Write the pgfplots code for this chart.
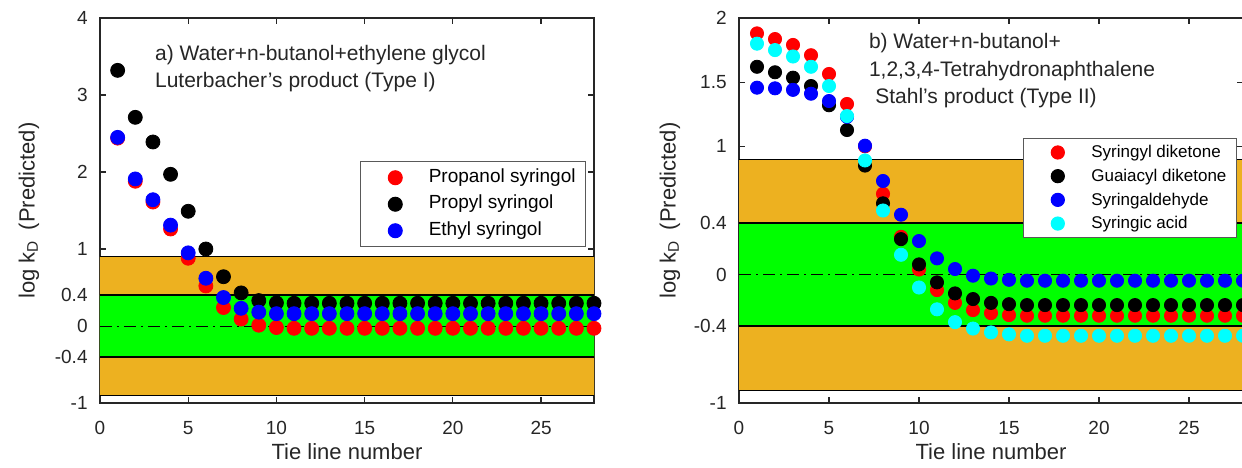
\documentclass[border=0pt]{standalone}
\usepackage{fontspec}
\setmainfont{Liberation Sans}
\usepackage{pgfplots}
\pgfplotsset{compat=1.18}
\definecolor{morange}{RGB}{237,177,32}
\definecolor{axgray}{RGB}{38,38,38}
\definecolor{mcyan}{RGB}{0,255,255}
\definecolor{mred}{RGB}{255,0,0}
\definecolor{mblue}{RGB}{0,0,255}
\definecolor{mgreen}{RGB}{0,255,0}
\pgfplotsset{
  common/.style={
    scale only axis,
    height=192.5pt,
    xmin=0, xmax=28,
    xtick={0,5,10,15,20,25},
    /pgf/number format/assume math mode=true,
    tick align=inside,
    major tick length=3pt,
    tick style={color=axgray, line width=0.6pt},
    axis line style={axgray, line width=0.9pt},
    tick label style={font=\fontsize{9.5}{11}\selectfont, text=black!85},
    xticklabel style={anchor=north, inner sep=0pt, yshift=-9pt},
    yticklabel style={anchor=east, inner sep=0pt, xshift=-6pt},
    label style={font=\fontsize{11}{13}\selectfont, text=black!85},
    xlabel={Tie line number},
    xlabel style={at={(axis description cs:0.5,-0.127)}, anchor=center},
    ylabel={log k$_{\mathrm{D}}$ \,(Predicted)},
    legend image code/.code={\path (-14pt,0pt) (14.5pt,0pt); \draw[##1] plot coordinates {(0pt,0pt)};},
    legend cell align=left,
    legend style={draw=gray!70!black, line width=0.5pt, fill=white,
      inner xsep=3pt, inner ysep=1.5pt, column sep=0pt,
      nodes={inner sep=2pt, text height=7pt, text depth=2.25pt}},
  },
  bands/.style={forget plot}
}
\begin{document}
\begin{tikzpicture}
% ---------------- left panel ----------------
\begin{axis}[common,
  at={(0pt,0pt)}, anchor=south west,
  width=247pt,
  ymin=-1, ymax=4,
  ytick={-1,-0.4,0,0.4,1,2,3,4},
  yticklabels={-1,-0.4,0,0.4,1,2,3,4},
  ylabel style={at={(axis description cs:-0.1437,0.5)}, anchor=center},
  legend style={at={(0.984,0.6286)}, anchor=north east,
    font=\fontsize{9.5}{11}\selectfont},
]
\addplot[bands, fill=morange, draw=none] coordinates {(0,-0.9) (28,-0.9) (28,0.9) (0,0.9) (0,-0.9)};
\addplot[bands, black, line width=0.5pt] coordinates {(0,0.9) (28,0.9)};
\addplot[bands, black, line width=0.5pt] coordinates {(0,-0.9) (28,-0.9)};
\addplot[bands, fill=mgreen, draw=none] coordinates {(0,-0.4) (28,-0.4) (28,0.4) (0,0.4) (0,-0.4)};
\addplot[bands, black, line width=1.1pt] coordinates {(0,0.4) (28,0.4)};
\addplot[bands, black, line width=1.1pt] coordinates {(0,-0.4) (28,-0.4)};
\addplot[bands, black, line width=0.5pt, dash pattern=on 6pt off 2.5pt on 1pt off 2.5pt] coordinates {(0,0) (28,0)};
\addplot[only marks, mark=*, mark size=3.5pt, color=mred] coordinates {
(1,2.44) (2,1.88) (3,1.61) (4,1.26) (5,0.88) (6,0.52) (7,0.24) (8,0.09) (9,0.01) (10,-0.02)
(11,-0.03) (12,-0.03) (13,-0.03) (14,-0.03) (15,-0.03) (16,-0.03) (17,-0.03) (18,-0.03) (19,-0.03)
(20,-0.03) (21,-0.03) (22,-0.03) (23,-0.03) (24,-0.03) (25,-0.03) (26,-0.03) (27,-0.03) (28,-0.03)};
\addlegendentry{Propanol syringol}
\addplot[only marks, mark=*, mark size=3.5pt, color=black] coordinates {
(1,3.32) (2,2.71) (3,2.39) (4,1.97) (5,1.49) (6,1.00) (7,0.64) (8,0.43) (9,0.33) (10,0.30)
(11,0.295) (12,0.295) (13,0.295) (14,0.295) (15,0.295) (16,0.295) (17,0.295) (18,0.295) (19,0.295)
(20,0.295) (21,0.295) (22,0.295) (23,0.295) (24,0.295) (25,0.295) (26,0.295) (27,0.295) (28,0.295)};
\addlegendentry{Propyl syringol}
\addplot[only marks, mark=*, mark size=3.5pt, color=mblue] coordinates {
(1,2.45) (2,1.91) (3,1.64) (4,1.31) (5,0.95) (6,0.62) (7,0.37) (8,0.23) (9,0.18) (10,0.16)
(11,0.16) (12,0.16) (13,0.16) (14,0.16) (15,0.16) (16,0.16) (17,0.16) (18,0.16) (19,0.16)
(20,0.16) (21,0.16) (22,0.16) (23,0.16) (24,0.16) (25,0.16) (26,0.16) (27,0.16) (28,0.16)};
\addlegendentry{Ethyl syringol}
\node[anchor=west, inner sep=0pt, font=\fontsize{10.5}{12}\selectfont, text=black!85] at (axis cs:3.1,3.52) {a) Water+n-butanol+ethylene glycol};
\node[anchor=west, inner sep=0pt, font=\fontsize{10.5}{12}\selectfont, text=black!85] at (axis cs:3.1,3.17) {Luterbacher’s product (Type I)};
\end{axis}
% ---------------- right panel ----------------
\begin{axis}[common,
  at={(319.5pt,0pt)}, anchor=south west,
  width=252pt,
  ymin=-1, ymax=2,
  ytick={-1,-0.4,0,0.4,1,1.5,2},
  yticklabels={-1,-0.4,0,0.4,1,1.5,2},
  ylabel style={at={(axis description cs:-0.137,0.5)}, anchor=center},
  legend style={at={(0.988,0.688)}, anchor=north east,
    font=\fontsize{8.5}{10}\selectfont, inner ysep=1pt,
    nodes={inner sep=2pt, text height=6.6pt, text depth=1.25pt}},
]
\addplot[bands, fill=morange, draw=none] coordinates {(0,-0.9) (28,-0.9) (28,0.9) (0,0.9) (0,-0.9)};
\addplot[bands, black, line width=0.5pt] coordinates {(0,0.9) (28,0.9)};
\addplot[bands, black, line width=0.5pt] coordinates {(0,-0.9) (28,-0.9)};
\addplot[bands, fill=mgreen, draw=none] coordinates {(0,-0.4) (28,-0.4) (28,0.4) (0,0.4) (0,-0.4)};
\addplot[bands, black, line width=1.1pt] coordinates {(0,0.4) (28,0.4)};
\addplot[bands, black, line width=1.1pt] coordinates {(0,-0.4) (28,-0.4)};
\addplot[bands, black, line width=0.5pt, dash pattern=on 6pt off 2.5pt on 1pt off 2.5pt] coordinates {(0,0) (28,0)};
\addplot[only marks, mark=*, mark size=3.3pt, color=mred] coordinates {
(1,1.88) (2,1.836) (3,1.79) (4,1.71) (5,1.564) (6,1.33) (7,1.0) (8,0.63) (9,0.295) (10,0.04)
(11,-0.12) (12,-0.22) (13,-0.276) (14,-0.30) (15,-0.315) (16,-0.32) (17,-0.32) (18,-0.32) (19,-0.32)
(20,-0.32) (21,-0.32) (22,-0.32) (23,-0.32) (24,-0.32) (25,-0.32) (26,-0.32) (27,-0.32) (28,-0.32)};
\addlegendentry{Syringyl diketone}
\addplot[only marks, mark=*, mark size=3.3pt, color=black] coordinates {
(1,1.62) (2,1.577) (3,1.535) (4,1.47) (5,1.32) (6,1.127) (7,0.85) (8,0.556) (9,0.277) (10,0.08)
(11,-0.06) (12,-0.146) (13,-0.19) (14,-0.22) (15,-0.23) (16,-0.237) (17,-0.237) (18,-0.237) (19,-0.237)
(20,-0.237) (21,-0.237) (22,-0.237) (23,-0.237) (24,-0.237) (25,-0.237) (26,-0.237) (27,-0.237) (28,-0.237)};
\addlegendentry{Guaiacyl diketone}
\addplot[only marks, mark=*, mark size=3.3pt, color=mblue] coordinates {
(1,1.457) (2,1.452) (3,1.44) (4,1.41) (5,1.353) (6,1.23) (7,1.005) (8,0.73) (9,0.467) (10,0.262)
(11,0.127) (12,0.044) (13,-0.008) (14,-0.03) (15,-0.04) (16,-0.047) (17,-0.047) (18,-0.047) (19,-0.047)
(20,-0.047) (21,-0.047) (22,-0.047) (23,-0.047) (24,-0.047) (25,-0.047) (26,-0.047) (27,-0.047) (28,-0.047)};
\addlegendentry{Syringaldehyde}
\addplot[only marks, mark=*, mark size=3.3pt, color=mcyan] coordinates {
(1,1.80) (2,1.75) (3,1.70) (4,1.62) (5,1.47) (6,1.236) (7,0.89) (8,0.50) (9,0.155) (10,-0.10)
(11,-0.27) (12,-0.37) (13,-0.42) (14,-0.45) (15,-0.465) (16,-0.476) (17,-0.476) (18,-0.476) (19,-0.476)
(20,-0.476) (21,-0.476) (22,-0.476) (23,-0.476) (24,-0.476) (25,-0.476) (26,-0.476) (27,-0.476) (28,-0.476)};
\addlegendentry{Syringic acid}
\node[anchor=west, inner sep=0pt, font=\fontsize{10.5}{12}\selectfont, text=black!85] at (axis cs:7.2,1.805) {b) Water+n-butanol+};
\node[anchor=west, inner sep=0pt, font=\fontsize{10.5}{12}\selectfont, text=black!85] at (axis cs:7.2,1.587) {1,2,3,4-Tetrahydronaphthalene};
\node[anchor=west, inner sep=0pt, font=\fontsize{10.5}{12}\selectfont, text=black!85] at (axis cs:7.55,1.376) {Stahl’s product (Type II)};
\end{axis}
\pgfresetboundingbox
\path[use as bounding box] (-50pt,-32pt) rectangle (571pt,201.5pt);
\end{tikzpicture}
\end{document}
